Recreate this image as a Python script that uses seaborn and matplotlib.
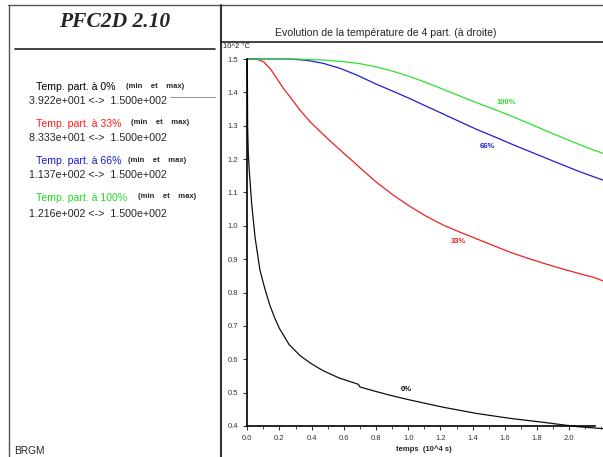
import matplotlib
matplotlib.use("Agg")
import matplotlib.pyplot as plt
from matplotlib.lines import Line2D
from matplotlib.ticker import MultipleLocator
import pandas as pd
import seaborn as sns

# temps (10^4 s) / temperature (10^2 degC)
t_0 = [0.0, 0.002, 0.006, 0.012, 0.027, 0.048, 0.079, 0.11, 0.14, 0.17, 0.2, 0.26,
       0.33, 0.4, 0.47, 0.57, 0.69, 0.70, 0.78, 0.88, 1.01, 1.22, 1.42, 1.63, 1.84,
       2.05, 2.21]
temp_0 = [1.5, 1.3, 1.22, 1.167, 1.067, 0.966, 0.866, 0.81, 0.762, 0.724, 0.692,
          0.644, 0.61, 0.586, 0.566, 0.544, 0.525, 0.517, 0.506, 0.493, 0.478, 0.456,
          0.438, 0.423, 0.411, 0.398, 0.392]

t_33 = [0.0, 0.058, 0.10, 0.141, 0.183, 0.224, 0.265, 0.327, 0.39, 0.45, 0.5, 0.55,
        0.6, 0.65, 0.70, 0.804, 0.907, 1.011, 1.114, 1.218, 1.321, 1.425, 1.528, 1.632,
        1.735, 1.839, 1.942, 2.046, 2.149, 2.21]
temp_33 = [1.5, 1.5, 1.492, 1.472, 1.442, 1.412, 1.387, 1.347, 1.312, 1.284, 1.261,
           1.239, 1.217, 1.196, 1.174, 1.13, 1.092, 1.058, 1.028, 1.002, 0.981, 0.961,
           0.941, 0.921, 0.904, 0.888, 0.873, 0.859, 0.846, 0.835]

t_66 = [0.0, 0.265, 0.37, 0.472, 0.576, 0.68, 0.804, 0.907, 1.011, 1.114, 1.218,
        1.321, 1.425, 1.55, 1.652, 1.86, 2.066, 2.21]
temp_66 = [1.5, 1.5, 1.496, 1.487, 1.472, 1.452, 1.424, 1.403, 1.381, 1.358, 1.335,
           1.312, 1.289, 1.264, 1.243, 1.202, 1.162, 1.137]

t_100 = [0.0, 0.31, 0.47, 0.6, 0.70, 0.804, 0.907, 1.011, 1.114, 1.218, 1.321, 1.425,
         1.55, 1.652, 1.86, 2.066, 2.21]
temp_100 = [1.5, 1.5, 1.497, 1.492, 1.486, 1.476, 1.463, 1.447, 1.429, 1.409, 1.389,
            1.369, 1.346, 1.327, 1.284, 1.243, 1.217]

labels = ["0%", "33%", "66%", "100%"]
colors = ["#101010", "#f02020", "#2020d0", "#30e030"]
text_colors = ["#000000", "#ff1a1a", "#1a1acc", "#22dd22"]
mins = ["3.922e+001", "8.333e+001", "1.137e+002", "1.216e+002"]
maxs = ["1.500e+002"] * 4
label_pos = [(0.99, 0.51), (1.31, 0.954), (1.495, 1.237), (1.607, 1.37)]

sns.set_style("white")
plt.rcParams["font.family"] = ["Liberation Sans", "DejaVu Sans"]

fig = plt.figure(figsize=(6.03, 4.57), dpi=100)
ax = fig.add_axes([247.3 / 603, 1 - 426 / 457, 1 - 247.3 / 603, (426 - 59) / 457])

series = [(t_0, temp_0), (t_33, temp_33), (t_66, temp_66), (t_100, temp_100)]
for (t, v), c, lab, pos in zip(series, colors, labels, label_pos):
    df = pd.DataFrame({"t": t, "v": v})
    sns.lineplot(data=df, x="t", y="v", sort=False, color=c, lw=0.9, ax=ax,
                 clip_on=False)
    ax.text(pos[0], pos[1], lab, color=c, fontsize=5.5, fontweight="bold",
            ha="center", va="center")

ax.set_xlim(0, 2.21)
ax.set_ylim(0.4, 1.5)
ax.set_xlabel("")
ax.set_ylabel("")
ax.xaxis.set_major_locator(MultipleLocator(0.2))
ax.xaxis.set_minor_locator(MultipleLocator(0.1))
ax.yaxis.set_major_locator(MultipleLocator(0.1))
ax.tick_params(axis="both", which="major", length=3, width=0.8, labelsize=5.5,
               colors="#333333", direction="out", bottom=True, left=True)
ax.tick_params(axis="x", which="minor", length=2, width=0.6, bottom=True)
for s in ["top", "right"]:
    ax.spines[s].set_visible(False)
for s in ["left", "bottom"]:
    ax.spines[s].set_linewidth(1.2)
    ax.spines[s].set_color("black")
ax.spines["bottom"].set_bounds(0, 2.16)
ax.set_xticks([0.0, 0.2, 0.4, 0.6, 0.8, 1.0, 1.2, 1.4, 1.6, 1.8, 2.0])
ax.set_xticklabels(["0.0", "0.2", "0.4", "0.6", "0.8", "1.0", "1.2", "1.4", "1.6",
                    "1.8", "2.0"])
ax.patch.set_alpha(0)

W, H = 603, 457


def hline(x0, x1, y, **kw):
    fig.add_artist(Line2D([x0 / W, x1 / W], [1 - y / H, 1 - y / H], **kw))


def vline(x, y0, y1, **kw):
    fig.add_artist(Line2D([x / W, x / W], [1 - y0 / H, 1 - y1 / H], **kw))


# panel frames
hline(8, 603, 5, color="#555555", lw=1.0)
vline(9, 5, 457, color="#555555", lw=1.0)
vline(221, 5, 457, color="#333333", lw=1.5)
hline(221, 603, 42, color="#222222", lw=1.2)
hline(15, 215, 49, color="#222222", lw=1.2)
hline(170, 215, 97, color="#999999", lw=0.8)

fig.text(115 / W, 1 - 22 / H, "PFC2D 2.10", family="Liberation Serif",
         fontsize=15.5, fontweight="bold", style="italic", ha="center", va="center")
fig.text(386 / W, 1 - 33 / H, "Evolution de la température de 4 part. (à droite)",
         fontsize=7.6, ha="center", va="center")
fig.text(223 / W, 1 - 47 / H, "10^2 °C", fontsize=5.5, ha="left", va="center")
fig.text(424 / W, 1 - 449 / H, "temps  (10^4 s)", fontsize=5.5, fontweight="bold",
         ha="center", va="center")
fig.text(14 / W, 1 - 451 / H, "BRGM", fontsize=7.3, ha="left", va="center")

rows_y = [87, 124, 161, 198]
mm_x = [126, 131, 128, 138]
for i in range(4):
    y = rows_y[i]
    fig.text(36 / W, 1 - y / H, "Temp. part. à " + labels[i], fontsize=7.6,
             color=text_colors[i], ha="left", va="center")
    fig.text(mm_x[i] / W, 1 - (y - 1) / H, "(min    et    max)", fontsize=5.5,
             fontweight="bold", ha="left", va="center")
    fig.text(29 / W, 1 - (y + 14 + (2 if i == 3 else 0)) / H,
             mins[i] + " <->  " + maxs[i], fontsize=7.7, ha="left", va="center")

fig.savefig("out.png", dpi=100)
